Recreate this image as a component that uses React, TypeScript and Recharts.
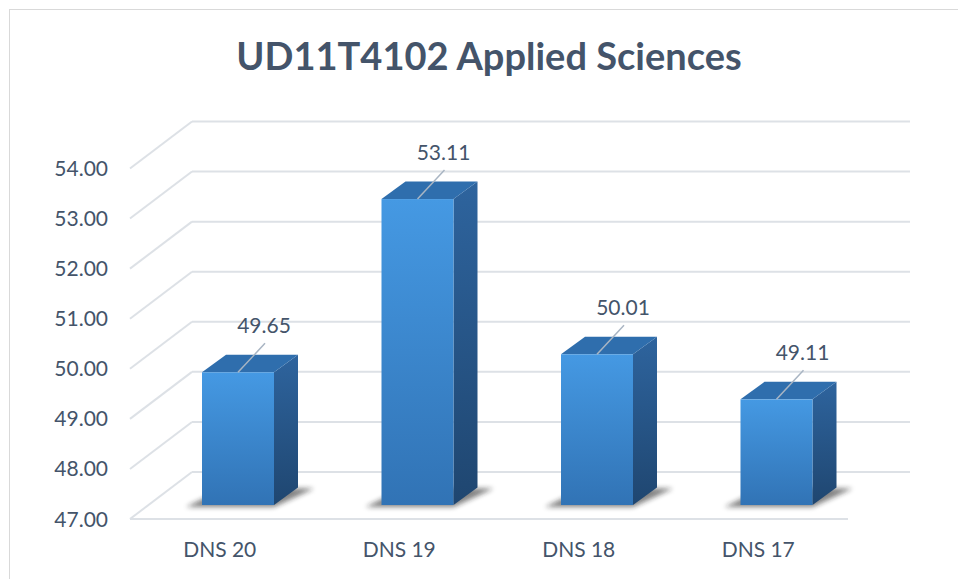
import React from 'react'
import { BarChart, Bar, XAxis, YAxis, CartesianGrid, LabelList } from 'recharts'

const categories = ['DNS 20', 'DNS 19', 'DNS 18', 'DNS 17']
const scores = [49.65, 53.11, 50.01, 49.11]
const yTicks = [47, 48, 49, 50, 51, 52, 53, 54]
const title = 'UD11T4102 Applied Sciences'

const data = categories.map((name, i) => ({ name, score: scores[i] }))

const W = 958
const H = 579
const FONT = 'Lato, "Open Sans", sans-serif'
const TEXT = '#44546A'
const GRID = '#DDE1E6'

// projection of the 3D box: floor depth and bar depth / offset
const FLOOR_DX = 62
const FLOOR_DY = 47
const BAR_SHIFT_X = 18
const BAR_SHIFT_Y = 14
const DEPTH_X = 24
const DEPTH_Y = 17.5
const PLOT_LEFT = 130
const PLOT_BOTTOM = 519
const FLOOR_RIGHT = 848
const WALL_RIGHT = 910

function GridLine(props: any) {
  const { y1, index } = props
  return (
    <g key={`g-${index}`}>
      <line x1={PLOT_LEFT} y1={y1} x2={PLOT_LEFT + FLOOR_DX} y2={y1 - FLOOR_DY} stroke={GRID} strokeWidth={2} />
      <line x1={PLOT_LEFT + FLOOR_DX} y1={y1 - FLOOR_DY} x2={WALL_RIGHT} y2={y1 - FLOOR_DY} stroke={GRID} strokeWidth={2} />
      {Math.abs(y1 - PLOT_BOTTOM) < 1 && (
        <line x1={PLOT_LEFT} y1={y1} x2={FLOOR_RIGHT} y2={y1} stroke={GRID} strokeWidth={2} />
      )}
    </g>
  )
}

function YTick({ y, payload }: any) {
  return (
    <text x={108} y={y} dy="0.36em" textAnchor="end" fontSize={21} fontFamily={FONT} fill={TEXT}>
      {Number(payload.value).toFixed(2)}
    </text>
  )
}

function XTick({ x, payload }: any) {
  return (
    <text x={x} y={PLOT_BOTTOM + 38} textAnchor="middle" fontSize={21} fontFamily={FONT} fill={TEXT}>
      {payload.value}
    </text>
  )
}

function Box3D({ x, y, width, height }: any) {
  const x0 = x + BAR_SHIFT_X
  const x1 = x0 + width
  const top = y - BAR_SHIFT_Y
  const bot = y + height - BAR_SHIFT_Y
  const shadow = `${x0 - 16},${bot + 2} ${x1},${bot + 2} ${x1 + DEPTH_X + 16},${bot - DEPTH_Y + 1} ${x0 + DEPTH_X},${bot - DEPTH_Y}`
  const side = `${x1},${top} ${x1 + DEPTH_X},${top - DEPTH_Y} ${x1 + DEPTH_X},${bot - DEPTH_Y} ${x1},${bot}`
  const cap = `${x0},${top} ${x0 + DEPTH_X},${top - DEPTH_Y} ${x1 + DEPTH_X},${top - DEPTH_Y} ${x1},${top}`
  return (
    <g>
      <defs>
        <linearGradient id="frontGrad" x1="0" y1="0" x2="0" y2="1">
          <stop offset="0%" stopColor="#4599E3" />
          <stop offset="100%" stopColor="#3173B5" />
        </linearGradient>
        <linearGradient id="sideGrad" x1="0" y1="0" x2="0" y2="1">
          <stop offset="0%" stopColor="#2E649E" />
          <stop offset="100%" stopColor="#1F4670" />
        </linearGradient>
        <filter id="shadowBlur" x="-20%" y="-100%" width="140%" height="300%">
          <feGaussianBlur stdDeviation="2.5" />
        </filter>
      </defs>
      <polygon points={shadow} fill="#1a1a1a" opacity={0.55} filter="url(#shadowBlur)" />
      <polygon points={side} fill="url(#sideGrad)" />
      <polygon points={cap} fill="#2F6EAD" />
      <rect x={x0} y={top} width={width} height={height} fill="url(#frontGrad)" />
    </g>
  )
}

function ValueLabel({ x, y, width, value }: any) {
  const cx = x + BAR_SHIFT_X + width / 2
  const top = y - BAR_SHIFT_Y
  return (
    <g>
      <line x1={cx} y1={top} x2={cx + 27} y2={top - 29} stroke="#A9B5C3" strokeWidth={1.5} />
      <text x={cx + 26} y={top - 39} textAnchor="middle" fontSize={21} fontFamily={FONT} fill={TEXT}>
        {Number(value).toFixed(2)}
      </text>
    </g>
  )
}

export default function App() {
  return (
    <div style={{ position: 'absolute', left: 0, top: 0, width: W, height: H, background: '#fff', overflow: 'hidden' }}>
      <div
        style={{
          position: 'absolute',
          left: 9,
          top: 9,
          width: W + 20,
          height: H + 20,
          borderTop: '1.5px solid #D9D9D9',
          borderLeft: '1.5px solid #D9D9D9',
        }}
      />
      <svg width={W} height={100} style={{ position: 'absolute', left: 0, top: 0 }}>
        <text x={489} y={70} textAnchor="middle" fontSize={38} fontWeight={700} fontFamily={FONT} fill={TEXT}>
          {title}
        </text>
      </svg>
      <div style={{ position: 'absolute', left: 0, top: 0 }}>
        <BarChart
          width={W}
          height={H}
          data={data}
          margin={{ top: 168.5, right: W - FLOOR_RIGHT, bottom: 0, left: 0 }}
          barSize={72}
        >
          <CartesianGrid vertical={false} horizontal={(p: any) => <GridLine {...p} />} />
          <XAxis dataKey="name" height={60} axisLine={false} tickLine={false} tick={<XTick />} interval={0} />
          <YAxis
            type="number"
            domain={[47, 54]}
            ticks={yTicks}
            width={130}
            axisLine={false}
            tickLine={false}
            tick={<YTick />}
          />
          <Bar dataKey="score" shape={<Box3D />} isAnimationActive={false}>
            <LabelList dataKey="score" content={<ValueLabel />} />
          </Bar>
        </BarChart>
      </div>
    </div>
  )
}
